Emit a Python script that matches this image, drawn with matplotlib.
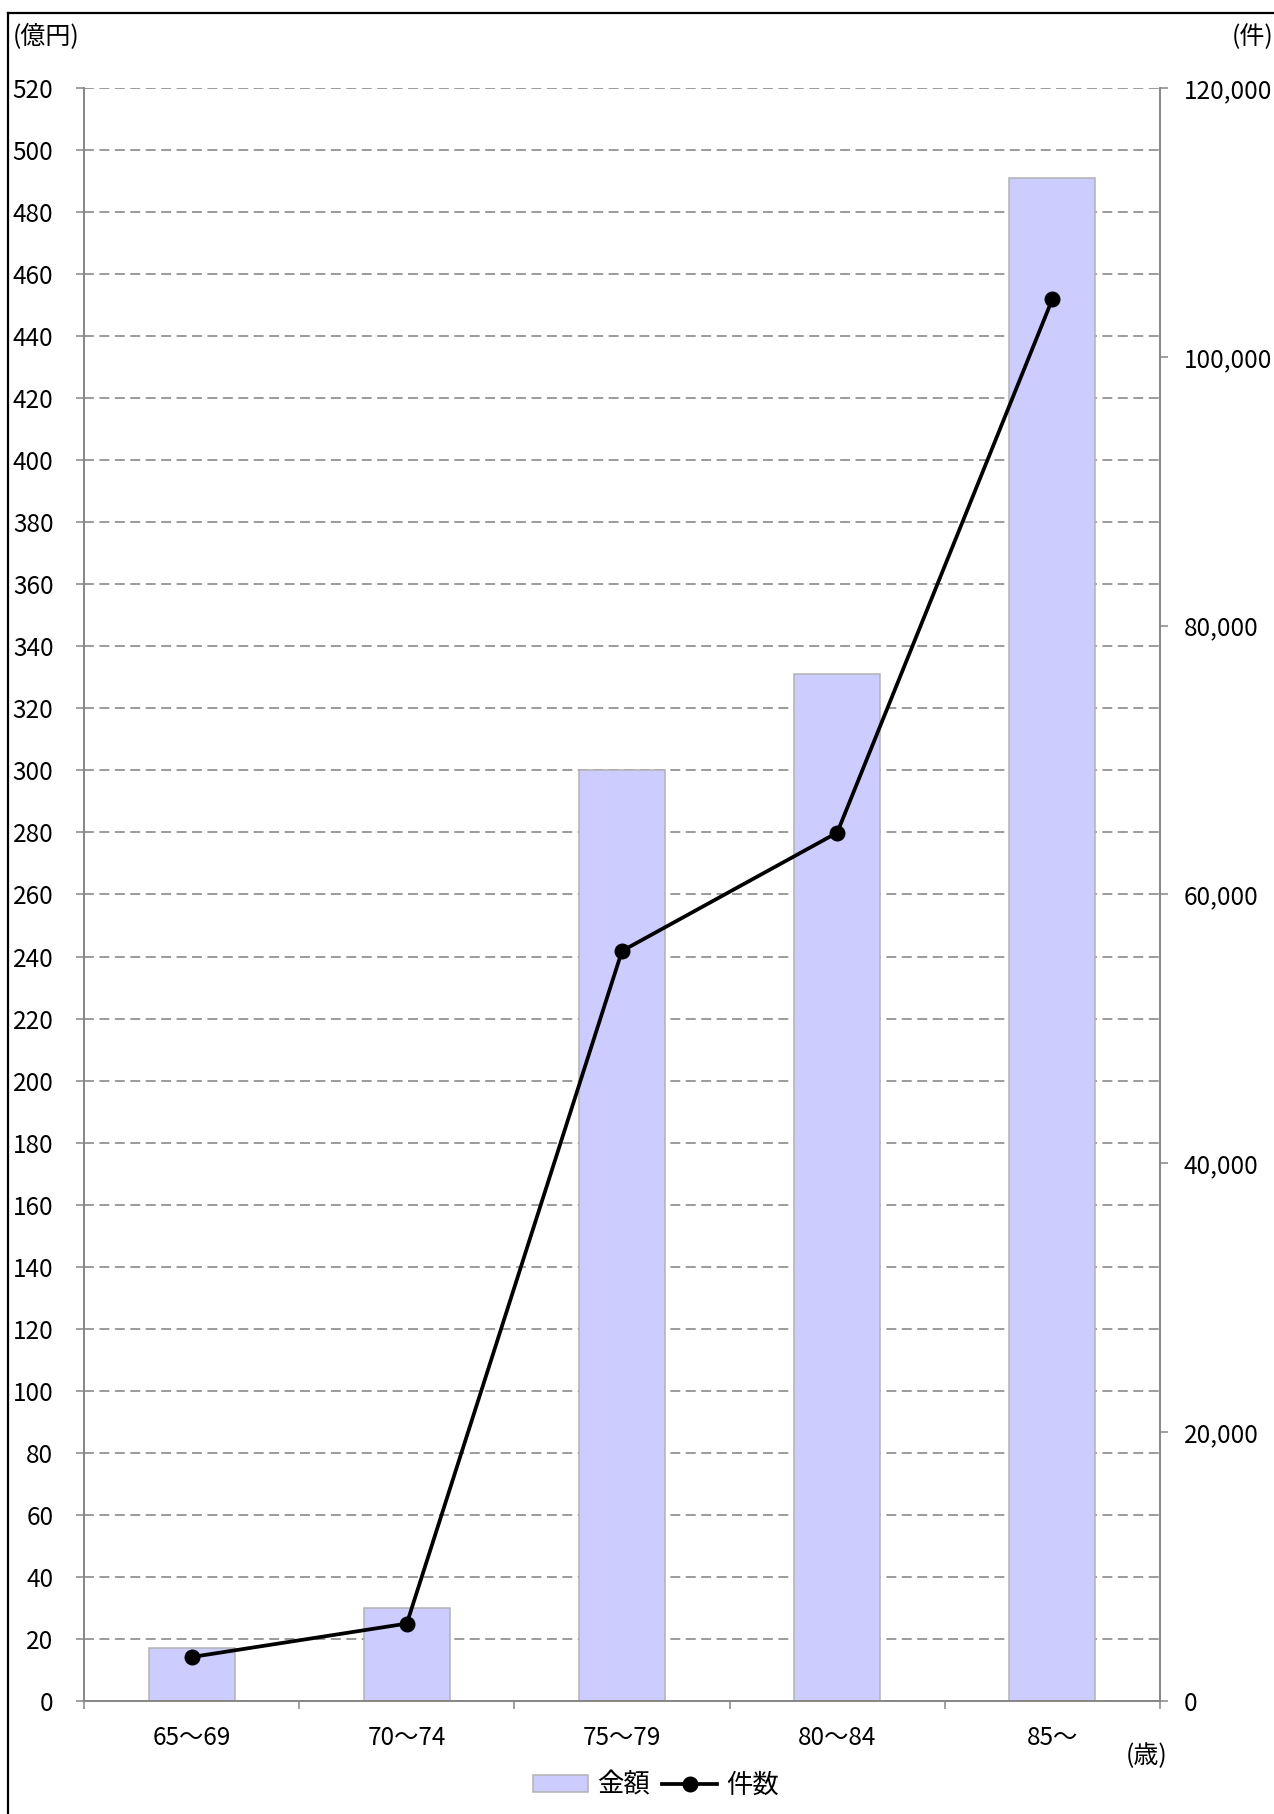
import matplotlib
matplotlib.use("Agg")
import matplotlib.pyplot as plt
from matplotlib.lines import Line2D
import numpy as np

plt.rcParams["font.family"] = ["Noto Sans CJK JP", "DejaVu Sans"]

# data
age_groups = ["65〜69", "70〜74", "75〜79", "80〜84", "85〜"]
amount_oku = [17, 30, 300, 331, 491]          # 金額 (億円), left axis
case_count = [3270, 5760, 55800, 64600, 104300]  # 件数 (件), right axis

W, H = 1274, 1814
fig = plt.figure(figsize=(W / 100, H / 100), dpi=100)

# axes box in pixel coordinates of the reference
x0, x1, y0, y1 = 84, 1160, 88, 1701
ax = fig.add_axes([x0 / W, 1 - y1 / H, (x1 - x0) / W, (y1 - y0) / H])
ax2 = ax.twinx()

grey = "#868686"
x = np.arange(len(age_groups))
fs = 17.5

ax.bar(x, amount_oku, width=0.4, color="#CCCCFF", edgecolor="#B3B3B3",
       linewidth=1.1, zorder=2)
ax.set_xlim(-0.5, len(age_groups) - 0.5)
ax.set_ylim(0, 520)
ax.set_yticks(np.arange(0, 521, 20))
ax.yaxis.grid(True, color="#808080", linestyle=(0, (6.5, 3.6)), linewidth=1.1)
ax.set_axisbelow(True)

ax.set_xticks(x)
ax.set_xticklabels(age_groups)
ax.set_xticks(np.arange(-0.5, len(age_groups), 1.0), minor=True)
ax.tick_params(axis="x", which="major", length=0, pad=17, labelsize=fs)
ax.tick_params(axis="x", which="minor", length=6, width=1.1, color=grey,
               direction="out")
ax.tick_params(axis="y", length=6, width=1.1, color=grey, pad=16, labelsize=fs)

ax2.plot(x, case_count, color="black", linewidth=2.7, marker="o",
         markersize=10.5, zorder=3)
ax2.set_ylim(0, 120000)
ax2.set_yticks(np.arange(0, 120001, 20000))
ax2.set_yticklabels([f"{v:,}" for v in range(0, 120001, 20000)])
ax2.tick_params(axis="y", length=6, width=1.1, color=grey, pad=11, labelsize=fs)

for a in (ax, ax2):
    a.spines["top"].set_visible(False)
    for s in ("left", "right", "bottom"):
        a.spines[s].set_color(grey)
        a.spines[s].set_linewidth(1.2)
ax.set_zorder(1)
ax2.set_zorder(2)
ax2.patch.set_visible(False)

# unit labels
fig.text(13 / W, 1 - 37 / H, "(億円)", fontsize=18, ha="left", va="center")
fig.text(1273 / W, 1 - 37 / H, "(件)", fontsize=18, ha="right", va="center")
fig.text(1147 / W, 1 - 1756 / H, "(歳)", fontsize=18, ha="center", va="center")

# legend
handles = [
    plt.Rectangle((0, 0), 1, 1, facecolor="#CCCCFF", edgecolor="#B3B3B3",
                  linewidth=1.1),
    Line2D([], [], color="black", linewidth=2.7, marker="o", markersize=10.5),
]
fig.legend(handles, ["金額", "件数"], loc="center",
           bbox_to_anchor=(656 / W, 1 - 1785 / H), ncol=2, frameon=False,
           fontsize=19, handlelength=2.1, handleheight=0.6, handletextpad=0.35,
           columnspacing=0.45)

# outer frame (cut off at right and bottom like the source)
fig.add_artist(Line2D([8 / W, 1], [1 - 13 / H, 1 - 13 / H], color="black",
                      linewidth=1.6, transform=fig.transFigure))
fig.add_artist(Line2D([8 / W, 8 / W], [0, 1 - 13 / H], color="black",
                      linewidth=1.6, transform=fig.transFigure))

fig.savefig("out.png", dpi=100)
